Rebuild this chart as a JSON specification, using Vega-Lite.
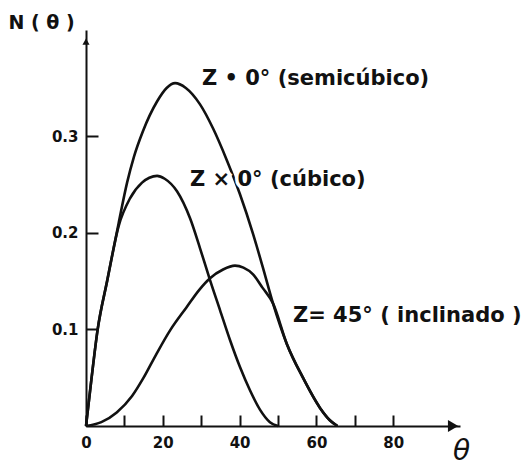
{
  "$schema": "https://vega.github.io/schema/vega-lite/v6.json",
  "width": 374,
  "height": 396,
  "autosize": "none",
  "padding": {"left": 86, "top": 30, "right": 63, "bottom": 41},
  "background": "white",
  "config": {
    "view": {"stroke": null},
    "font": "DejaVu Sans",
    "axis": {
      "grid": false,
      "domainColor": "#111",
      "domainWidth": 2,
      "tickColor": "#111",
      "tickWidth": 2,
      "labelColor": "#111",
      "labelFont": "DejaVu Sans",
      "labelFontWeight": "bold",
      "labelFontSize": 15,
      "labelFlush": false,
      "titleColor": "#111",
      "titleFont": "DejaVu Sans"
    }
  },
  "datasets": {
    "curves": [
      {"curve": "semicubico", "theta": 0, "N": 0},
      {"curve": "semicubico", "theta": 1.4, "N": 0.048},
      {"curve": "semicubico", "theta": 3, "N": 0.099},
      {"curve": "semicubico", "theta": 5.5, "N": 0.15},
      {"curve": "semicubico", "theta": 8.5, "N": 0.21},
      {"curve": "semicubico", "theta": 10.7, "N": 0.252},
      {"curve": "semicubico", "theta": 12.5, "N": 0.279},
      {"curve": "semicubico", "theta": 14.8, "N": 0.305},
      {"curve": "semicubico", "theta": 18.5, "N": 0.336},
      {"curve": "semicubico", "theta": 21, "N": 0.35},
      {"curve": "semicubico", "theta": 23.2, "N": 0.355},
      {"curve": "semicubico", "theta": 26, "N": 0.35},
      {"curve": "semicubico", "theta": 29.7, "N": 0.333},
      {"curve": "semicubico", "theta": 33.1, "N": 0.308},
      {"curve": "semicubico", "theta": 36.7, "N": 0.275},
      {"curve": "semicubico", "theta": 40.1, "N": 0.240},
      {"curve": "semicubico", "theta": 43.5, "N": 0.199},
      {"curve": "semicubico", "theta": 46, "N": 0.165},
      {"curve": "semicubico", "theta": 48.7, "N": 0.127},
      {"curve": "semicubico", "theta": 52.3, "N": 0.085},
      {"curve": "semicubico", "theta": 56.5, "N": 0.05},
      {"curve": "semicubico", "theta": 60.9, "N": 0.019},
      {"curve": "semicubico", "theta": 63.5, "N": 0.006},
      {"curve": "semicubico", "theta": 65.5, "N": 0},

      {"curve": "cubico", "theta": 0, "N": 0},
      {"curve": "cubico", "theta": 1.4, "N": 0.048},
      {"curve": "cubico", "theta": 3, "N": 0.099},
      {"curve": "cubico", "theta": 5.5, "N": 0.15},
      {"curve": "cubico", "theta": 8.5, "N": 0.207},
      {"curve": "cubico", "theta": 11.5, "N": 0.236},
      {"curve": "cubico", "theta": 14.6, "N": 0.252},
      {"curve": "cubico", "theta": 16.5, "N": 0.257},
      {"curve": "cubico", "theta": 18.5, "N": 0.259},
      {"curve": "cubico", "theta": 20.5, "N": 0.256},
      {"curve": "cubico", "theta": 23.7, "N": 0.243},
      {"curve": "cubico", "theta": 27.1, "N": 0.215},
      {"curve": "cubico", "theta": 29.7, "N": 0.184},
      {"curve": "cubico", "theta": 32.3, "N": 0.151},
      {"curve": "cubico", "theta": 34.9, "N": 0.12},
      {"curve": "cubico", "theta": 37.5, "N": 0.089},
      {"curve": "cubico", "theta": 40.1, "N": 0.061},
      {"curve": "cubico", "theta": 42.7, "N": 0.037},
      {"curve": "cubico", "theta": 45.3, "N": 0.017},
      {"curve": "cubico", "theta": 47.9, "N": 0.004},
      {"curve": "cubico", "theta": 50, "N": 0},

      {"curve": "inclinado", "theta": 0, "N": 0},
      {"curve": "inclinado", "theta": 4, "N": 0.004},
      {"curve": "inclinado", "theta": 8, "N": 0.014},
      {"curve": "inclinado", "theta": 12, "N": 0.031},
      {"curve": "inclinado", "theta": 15, "N": 0.05},
      {"curve": "inclinado", "theta": 18.4, "N": 0.075},
      {"curve": "inclinado", "theta": 21.9, "N": 0.099},
      {"curve": "inclinado", "theta": 26.2, "N": 0.123},
      {"curve": "inclinado", "theta": 29.5, "N": 0.141},
      {"curve": "inclinado", "theta": 32.3, "N": 0.153},
      {"curve": "inclinado", "theta": 35.7, "N": 0.162},
      {"curve": "inclinado", "theta": 38.8, "N": 0.166},
      {"curve": "inclinado", "theta": 41, "N": 0.164},
      {"curve": "inclinado", "theta": 43.5, "N": 0.157},
      {"curve": "inclinado", "theta": 46, "N": 0.143},
      {"curve": "inclinado", "theta": 48.7, "N": 0.127},
      {"curve": "inclinado", "theta": 52.3, "N": 0.085},
      {"curve": "inclinado", "theta": 56.5, "N": 0.05},
      {"curve": "inclinado", "theta": 60.9, "N": 0.019},
      {"curve": "inclinado", "theta": 63.5, "N": 0.006},
      {"curve": "inclinado", "theta": 65.5, "N": 0}
    ],
    "labels": [
      {"text": "Z • 0° (semicúbico)", "theta": 30.2, "N": 0.359},
      {"text": "Z × 0° (cúbico)", "theta": 27.1, "N": 0.255},
      {"text": "Z= 45° ( inclinado )", "theta": 53.9, "N": 0.114}
    ]
  },
  "layer": [
    {
      "data": {"name": "curves"},
      "mark": {"type": "line", "interpolate": "monotone", "color": "#111", "strokeWidth": 2.6},
      "encoding": {
        "x": {
          "field": "theta",
          "type": "quantitative",
          "scale": {"domain": [0, 97.4], "nice": false, "zero": false},
          "axis": {
            "values": [0, 10, 20, 30, 40, 50, 60, 70, 80],
            "labelExpr": "datum.value % 20 === 0 ? datum.label : ''",
            "tickSize": -11,
            "labelPadding": 20,
            "title": "θ",
            "titleFontSize": 28,
            "titleFontStyle": "italic",
            "titleFontWeight": "normal",
            "titleX": 375,
            "titleY": 25,
            "titleAlign": "center",
            "titleBaseline": "middle"
          }
        },
        "y": {
          "field": "N",
          "type": "quantitative",
          "scale": {"domain": [0, 0.41], "nice": false},
          "axis": {
            "values": [0.1, 0.2, 0.3],
            "format": ".1f",
            "tickSize": -12,
            "labelPadding": 20,
            "title": "N ( θ )",
            "titleAngle": 0,
            "titleFontSize": 19,
            "titleFontWeight": "bold",
            "titleX": -78,
            "titleY": -8,
            "titleAlign": "left",
            "titleBaseline": "middle"
          }
        },
        "detail": {"field": "curve"}
      }
    },
    {
      "data": {"values": [{}]},
      "mark": {"type": "point", "shape": "triangle-right", "filled": true, "color": "#111", "size": 140, "opacity": 1},
      "encoding": {"x": {"datum": 95.6}, "y": {"datum": 0}}
    },
    {
      "data": {"values": [{}]},
      "mark": {"type": "point", "shape": "triangle-up", "filled": true, "color": "#111", "size": 50, "opacity": 1},
      "encoding": {"x": {"datum": 0}, "y": {"datum": 0.398}}
    },
    {
      "data": {"name": "labels"},
      "mark": {"type": "text", "align": "left", "baseline": "middle", "fontSize": 21, "fontWeight": "bold", "color": "white", "stroke": "white", "strokeWidth": 7},
      "encoding": {
        "x": {"field": "theta", "type": "quantitative"},
        "y": {"field": "N", "type": "quantitative"},
        "text": {"field": "text"}
      }
    },
    {
      "data": {"name": "labels"},
      "mark": {"type": "text", "align": "left", "baseline": "middle", "fontSize": 21, "fontWeight": "bold", "color": "#111"},
      "encoding": {
        "x": {"field": "theta", "type": "quantitative"},
        "y": {"field": "N", "type": "quantitative"},
        "text": {"field": "text"}
      }
    }
  ]
}
